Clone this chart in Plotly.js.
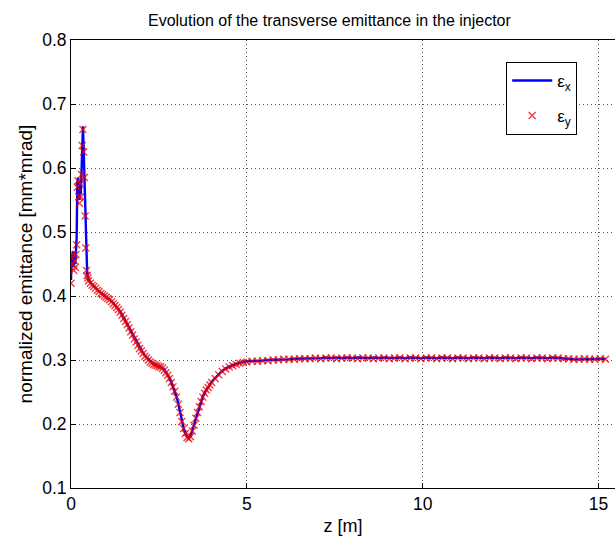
<!DOCTYPE html>
<html>
<head>
<meta charset="utf-8">
<script src="https://cdn.plot.ly/plotly-3.0.1.min.js"></script>
<style>html,body{margin:0;padding:0;background:#fff}#chart{width:615px;height:536px}</style>
</head>
<body>
<div id="chart"></div>
<script>
// position along the injector [m]
const z = [
  0,0.02,0.04,0.06,0.08,0.10,0.12,0.14,0.16,0.18,
  0.20,0.22,0.24,0.26,0.28,0.30,0.32,0.34,0.36,0.38,
  0.40,0.42,0.44,0.46,0.48,0.50,
  0.55,0.60,0.65,0.70,0.75,0.80,0.85,0.90,0.95,1.00,
  1.05,1.10,1.15,1.20,1.25,1.30,1.35,1.40,1.45,1.50,
  1.55,1.60,1.65,1.70,1.75,1.80,1.85,1.90,1.95,2.00,
  2.05,2.10,2.15,2.20,2.25,2.30,2.35,2.40,2.45,2.50,
  2.55,2.60,2.65,2.70,2.75,2.80,2.85,2.90,2.95,3.00,
  3.05,3.10,3.15,3.20,3.25,3.30,3.35,3.40,3.45,3.50,
  3.55,3.60,3.65,3.70,3.75,3.80,3.85,3.90,3.95,4.00,
  4.10,4.20,4.30,4.40,4.50,4.60,4.70,4.80,4.90,5.00,
  5.15,5.30,5.45,5.60,5.75,5.90,6.05,6.20,6.35,6.50,
  6.65,6.80,6.95,7.10,7.25,7.40,7.55,7.70,7.85,8.00,
  8.15,8.30,8.45,8.60,8.75,8.90,9.05,9.20,9.35,9.50,
  9.65,9.80,9.95,10.10,10.25,10.40,10.55,10.70,10.85,11.00,
  11.15,11.30,11.45,11.60,11.75,11.90,12.05,12.20,12.35,12.50,
  12.65,12.80,12.95,13.10,13.25,13.40,13.55,13.70,13.85,14.00,
  14.15,14.30,14.45,14.60,14.75,14.90,15.05,15.20
];
// normalized emittance, x plane [mm*mrad]
const ex = [
  0.425,0.465,0.455,0.470,0.445,0.460,0.450,0.470,0.490,0.575,
  0.585,0.560,0.550,0.580,0.560,0.595,0.640,0.665,0.630,0.590,
  0.530,0.480,0.445,0.435,0.430,0.425,
  0.421,0.418,0.415,0.413,0.410,0.407,0.405,0.403,0.401,0.399,
  0.397,0.395,0.392,0.389,0.386,0.383,0.380,0.376,0.371,0.366,
  0.361,0.356,0.351,0.345,0.340,0.334,0.329,0.324,0.319,0.315,
  0.311,0.307,0.304,0.301,0.298,0.296,0.294,0.293,0.292,0.291,
  0.290,0.288,0.285,0.281,0.277,0.272,0.266,0.259,0.252,0.243,
  0.232,0.219,0.205,0.194,0.186,0.180,0.178,0.181,0.190,0.199,
  0.210,0.219,0.228,0.236,0.243,0.249,0.254,0.258,0.262,0.266,
  0.272,0.278,0.283,0.287,0.290,0.292,0.294,0.296,0.297,0.298,
  0.298,0.299,0.299,0.300,0.300,0.301,0.301,0.301,0.302,0.302,
  0.302,0.303,0.303,0.303,0.304,0.303,0.304,0.303,0.304,0.303,
  0.304,0.303,0.303,0.304,0.303,0.304,0.303,0.303,0.304,0.303,
  0.304,0.303,0.303,0.304,0.303,0.303,0.304,0.303,0.303,0.304,
  0.303,0.303,0.304,0.303,0.303,0.304,0.303,0.303,0.304,0.303,
  0.303,0.304,0.303,0.303,0.304,0.303,0.303,0.304,0.303,0.303,
  0.302,0.301,0.301,0.301,0.301,0.301,0.302,0.302
];
// normalized emittance, y plane [mm*mrad]
const ey = [
  0.420,0.460,0.450,0.465,0.440,0.455,0.445,0.465,0.480,0.570,
  0.580,0.555,0.545,0.575,0.555,0.590,0.635,0.660,0.625,0.585,
  0.525,0.475,0.440,0.432,0.428,0.424,
  0.420,0.417,0.415,0.412,0.409,0.407,0.404,0.402,0.400,0.398,
  0.396,0.394,0.391,0.388,0.385,0.382,0.379,0.375,0.370,0.365,
  0.360,0.355,0.350,0.344,0.339,0.333,0.328,0.323,0.318,0.314,
  0.310,0.306,0.303,0.300,0.297,0.295,0.293,0.292,0.291,0.290,
  0.289,0.287,0.284,0.280,0.276,0.271,0.265,0.258,0.251,0.242,
  0.231,0.218,0.204,0.193,0.185,0.179,0.177,0.180,0.189,0.198,
  0.209,0.218,0.227,0.235,0.242,0.248,0.253,0.257,0.261,0.265,
  0.271,0.277,0.282,0.286,0.289,0.291,0.293,0.295,0.296,0.297,
  0.298,0.298,0.299,0.299,0.300,0.300,0.301,0.301,0.301,0.302,
  0.302,0.302,0.303,0.302,0.303,0.303,0.302,0.303,0.303,0.303,
  0.302,0.303,0.303,0.302,0.303,0.303,0.302,0.303,0.303,0.302,
  0.303,0.303,0.302,0.303,0.303,0.302,0.303,0.303,0.302,0.303,
  0.303,0.302,0.303,0.303,0.302,0.303,0.303,0.302,0.303,0.303,
  0.302,0.303,0.303,0.302,0.303,0.303,0.302,0.303,0.303,0.302,
  0.302,0.301,0.301,0.302,0.301,0.301,0.302,0.301
];
const seriesNames = ['ε<sub>x</sub>', 'ε<sub>y</sub>'];
const xTicks = [0, 5, 10, 15];
const yTicks = [0.1, 0.2, 0.3, 0.4, 0.5, 0.6, 0.7, 0.8];

const FONT = 'Liberation Sans, Arial, sans-serif';

const traces = [
  {
    x: z, y: ex, name: seriesNames[0], type: 'scatter', mode: 'lines',
    line: {color: '#0000ff', width: 2.4},
    legendgroup: 'a'
  },
  {
    x: z, y: ey, name: seriesNames[1], type: 'scatter', mode: 'markers',
    marker: {symbol: 'x-thin', size: 7, color: 'rgba(255,0,0,0.85)',
             line: {color: 'rgba(235,0,0,0.75)', width: 1.4}},
    legendgroup: 'b'
  }
];

const axisCommon = {
  showline: true, linecolor: '#000', linewidth: 1,
  ticks: 'inside', ticklen: 5, tickcolor: '#000',
  showgrid: true, gridcolor: '#555', gridwidth: 1, griddash: '1px,3px',
  zeroline: false,
  tickfont: {family: FONT, size: 17.5, color: '#000'}
};

const layout = {
  width: 615, height: 536,
  margin: {l: 71, r: 0, t: 40, b: 48},
  paper_bgcolor: '#fff', plot_bgcolor: '#fff',
  showlegend: true,
  title: {
    text: 'Evolution of the transverse emittance in the injector',
    font: {family: FONT, size: 16, color: '#000'},
    xref: 'paper', x: 0.475, xanchor: 'center',
    yref: 'container', y: 1 - 20/536, yanchor: 'middle'
  },
  xaxis: Object.assign({}, axisCommon, {
    range: [0, 15.47], tickvals: xTicks, ticktext: xTicks.map(String),
    mirror: true,
    title: {text: 'z [m]', font: {family: FONT, size: 18, color: '#000'}, standoff: 8}
  }),
  yaxis: Object.assign({}, axisCommon, {
    range: [0.1, 0.8], tickvals: yTicks, ticktext: yTicks.map(v => v.toFixed(1)),
    title: {text: 'normalized emittance [mm*mrad]', font: {family: FONT, size: 19, color: '#000'}, standoff: 4}
  }),
  legend: {
    x: 0.80, y: 0.951, xanchor: 'left', yanchor: 'top',
    bgcolor: '#fff', bordercolor: '#000', borderwidth: 1,
    font: {family: FONT, size: 17, color: '#000'},
    tracegroupgap: 10, itemwidth: 40
  }
};

Plotly.newPlot('chart', traces, layout, {displayModeBar: false, staticPlot: true});
</script>
</body>
</html>
